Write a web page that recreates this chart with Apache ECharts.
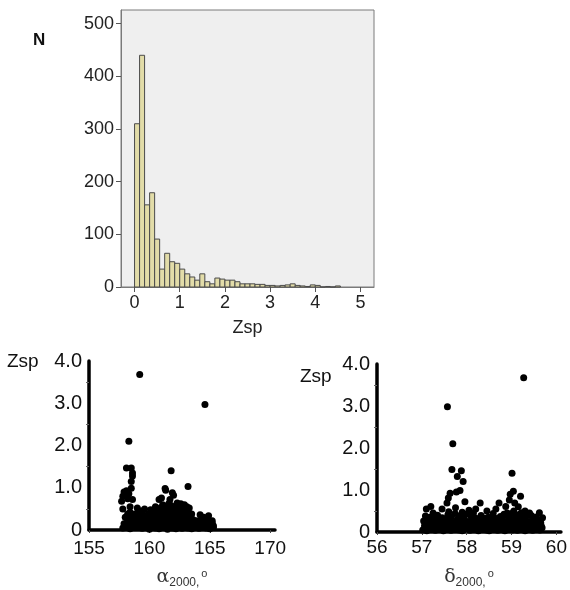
<!DOCTYPE html>
<html><head><meta charset="utf-8">
<script src="https://cdn.jsdelivr.net/npm/echarts@6/dist/echarts.min.js"></script>
<style>html,body{margin:0;padding:0;background:#fff}#c{width:570px;height:590px}</style>
</head><body><div id="c"></div>
<script>
// Histogram: Zsp bins (width 1/9) and counts N
const histBinWidth = 1/9;
const histCounts = [310,440,156,179,91,34,64,48,45,34,25,19,13,25,10,6,17,15,13,13,10,6,6,6,5,5,3,3,2,3,4,6,3,2,1,4,3,0,1,0,2];
const histXTicks = [0,1,2,3,4,5];
const histYTicks = [0,100,200,300,400,500];

// Scatter 1: alpha2000 (deg) vs Zsp
const alphaZsp = [
[159.2,3.68],[164.6,2.97],[158.3,2.1],[161.8,1.4],
[158.1,1.47],[158.5,1.47],[158.6,1.35],[158.6,1.28],[158.5,1.15],[158.5,0.99],
[157.9,0.9],[158.1,0.93],[158.3,0.86],[157.8,0.8],[158.2,0.74],[158.6,0.72],[157.7,0.68],
[163.2,1.03],[161.3,0.98],[161.35,0.94],[161.9,0.88],[162.0,0.82],[161.7,0.72],
[160.8,0.72],[161.0,0.76],[162.6,0.62],[162.9,0.6],[163.1,0.55],[163.3,0.52],[162.3,0.64],
[160.5,0.55],[160.1,0.48],[159.6,0.5],[159.0,0.52],[158.4,0.55],[157.8,0.5],[159.3,0.45],
[164.2,0.36],[164.9,0.34],[164.5,0.3],[165.2,0.22],
[157.8,0.05],[158.1,0.08],[158.4,0.03],[158.8,0.06],[159.1,0.1],[159.4,0.04],[159.7,0.07],[160.0,0.02],[160.3,0.09],[160.5,0.05],[160.8,0.03],[161.0,0.08],[161.2,0.06],[161.5,0.02],[161.7,0.09],[161.9,0.05],[162.2,0.03],[162.4,0.07],[162.7,0.04],[163.0,0.09],[163.2,0.05],[163.5,0.03],[163.8,0.06],[164.1,0.04],[164.4,0.08],[164.7,0.05],[165.0,0.03],[165.3,0.06],
[157.9,0.15],[158.3,0.18],[158.7,0.13],[159.0,0.2],[159.3,0.16],[159.6,0.14],[159.9,0.19],[160.2,0.15],[160.4,0.21],[160.7,0.13],[160.9,0.18],[161.1,0.22],[161.4,0.15],[161.6,0.19],[161.8,0.13],[162.1,0.2],[162.3,0.16],[162.6,0.14],[162.9,0.19],[163.1,0.15],[163.4,0.18],[163.7,0.13],[164.0,0.17],[164.2,0.12],[164.5,0.15],[164.8,0.18],[165.1,0.14],[165.3,0.1],
[158.0,0.3],[158.5,0.27],[158.9,0.33],[159.2,0.26],[159.5,0.3],[159.8,0.28],[160.1,0.34],[160.3,0.27],[160.6,0.31],[160.8,0.26],[161.0,0.35],[161.3,0.29],[161.5,0.33],[161.7,0.27],[162.0,0.31],[162.2,0.36],[162.5,0.28],[162.7,0.33],[163.0,0.27],[163.3,0.32],[163.6,0.25],[163.9,0.22],[164.3,0.25],[164.7,0.24],
[158.4,0.42],[158.8,0.38],[159.4,0.4],[159.9,0.38],[160.5,0.42],[160.8,0.4],[161.1,0.45],[161.4,0.41],[161.7,0.48],[161.9,0.4],[162.1,0.47],[162.4,0.43],[162.8,0.4],[163.1,0.44],[163.5,0.38],
[161.3,0.55],[161.8,0.58],[162.3,0.52],[160.9,0.52],
[158.0,0.1],[158.25,0.12],[158.55,0.09],[158.95,0.12],[159.25,0.08],[159.55,0.11],[159.85,0.12],[160.15,0.09],[160.45,0.13],[160.65,0.08],[160.95,0.11],[161.3,0.1],[161.6,0.12],[161.85,0.08],[162.05,0.11],[162.35,0.1],[162.55,0.09],[162.85,0.12],[163.1,0.1],[163.35,0.12],[163.65,0.09],[163.95,0.11],[164.25,0.09],[164.6,0.11],[164.9,0.1],[165.2,0.12],
[158.2,0.23],[158.6,0.21],[159.1,0.24],[159.4,0.22],[159.7,0.23],[160.0,0.25],[160.5,0.24],[160.75,0.2],[161.2,0.24],[161.55,0.25],[161.9,0.22],[162.15,0.26],[162.4,0.23],[162.8,0.24],[163.2,0.22],[163.5,0.2],[163.85,0.17],[164.1,0.2],[164.55,0.2],[164.95,0.21],[165.2,0.17],
[160.25,0.38],[160.65,0.36],[161.2,0.37],[161.6,0.38],[162.3,0.38],[162.6,0.36],[162.95,0.36],[163.35,0.37],[161.5,0.5],[162.0,0.52],[162.6,0.48],[161.1,0.6],[161.6,0.62],[159.1,0.4],[158.6,0.35],[158.2,0.38]
];
const alphaXTicks = [155,160,165,170];

// Scatter 2: delta2000 (deg) vs Zsp
const deltaZsp = [
[59.27,3.67],[57.57,2.98],[57.69,2.1],[57.67,1.49],[57.88,1.46],[57.79,1.32],[57.92,1.2],[57.85,0.99],[57.77,0.95],[57.63,0.92],[57.59,0.81],[57.56,0.69],[57.96,0.72],
[59.01,1.4],[59.04,0.97],[58.97,0.9],[59.2,0.85],[58.95,0.76],[59.07,0.69],[58.72,0.69],[58.87,0.61],[58.3,0.69],[57.2,0.61],[57.1,0.55],[58.45,0.5],[58.59,0.44],[59.62,0.46],[59.69,0.34],[59.66,0.15],
[57.45,0.55],[57.75,0.58],[58.05,0.52],[58.2,0.55],[58.65,0.55],[59.15,0.6],[59.3,0.5],
[57.02,0.05],[57.11,0.03],[57.19,0.07],[57.3,0.04],[57.37,0.08],[57.48,0.03],[57.54,0.06],[57.65,0.04],[57.72,0.08],[57.83,0.05],[57.9,0.03],[58.01,0.07],[58.07,0.04],[58.18,0.06],[58.26,0.03],[58.33,0.08],[58.44,0.05],[58.5,0.03],[58.61,0.07],[58.69,0.04],[58.78,0.06],[58.85,0.03],[58.96,0.08],[59.02,0.05],[59.13,0.04],[59.19,0.07],[59.3,0.03],[59.37,0.06],[59.47,0.04],[59.56,0.08],[59.63,0.05],
[57.06,0.15],[57.15,0.12],[57.25,0.17],[57.33,0.14],[57.42,0.19],[57.5,0.13],[57.6,0.16],[57.68,0.2],[57.77,0.14],[57.86,0.17],[57.95,0.12],[58.03,0.18],[58.12,0.15],[58.22,0.13],[58.29,0.19],[58.39,0.16],[58.47,0.12],[58.55,0.17],[58.64,0.14],[58.73,0.19],[58.81,0.15],[58.9,0.13],[58.99,0.18],[59.07,0.16],[59.16,0.12],[59.24,0.19],[59.33,0.14],[59.42,0.17],[59.51,0.13],[59.6,0.18],[59.68,0.1],
[57.04,0.26],[57.13,0.23],[57.23,0.28],[57.32,0.25],[57.4,0.3],[57.52,0.24],[57.61,0.27],[57.7,0.22],[57.79,0.29],[57.88,0.25],[57.97,0.27],[58.06,0.23],[58.15,0.3],[58.24,0.26],[58.36,0.24],[58.45,0.28],[58.53,0.22],[58.62,0.27],[58.71,0.25],[58.8,0.3],[58.88,0.23],[58.97,0.28],[59.05,0.26],[59.14,0.31],[59.22,0.24],[59.31,0.29],[59.4,0.25],[59.49,0.28],[59.58,0.23],
[57.08,0.38],[57.18,0.35],[57.35,0.4],[57.45,0.34],[57.58,0.41],[57.66,0.36],[57.74,0.44],[57.83,0.38],[57.93,0.35],[58.0,0.42],[58.1,0.36],[58.2,0.33],[58.32,0.39],[58.48,0.35],[58.58,0.33],[58.75,0.37],[58.83,0.42],[58.92,0.38],[59.0,0.44],[59.09,0.4],[59.18,0.42],[59.26,0.38],[59.35,0.41],[59.44,0.39],[59.55,0.36],
[57.07,0.1],[57.16,0.08],[57.24,0.11],[57.34,0.09],[57.43,0.1],[57.52,0.09],[57.62,0.11],[57.7,0.1],[57.8,0.09],[57.88,0.11],[57.97,0.08],[58.05,0.11],[58.14,0.1],[58.23,0.09],[58.31,0.11],[58.4,0.1],[58.49,0.09],[58.58,0.11],[58.66,0.09],[58.75,0.1],[58.83,0.11],[58.93,0.09],[59.0,0.11],[59.1,0.1],[59.2,0.09],[59.27,0.11],[59.35,0.1],[59.45,0.09],[59.53,0.11],[59.62,0.1],
[57.09,0.2],[57.28,0.21],[57.46,0.21],[57.65,0.22],[57.82,0.21],[58.0,0.2],[58.18,0.22],[58.33,0.21],[58.5,0.2],[58.67,0.21],[58.85,0.2],[59.02,0.22],[59.19,0.21],[59.36,0.21],[59.54,0.2],[59.65,0.22],
[57.28,0.33],[57.55,0.32],[57.88,0.31],[58.27,0.31],[58.4,0.33],[58.66,0.32],[58.96,0.33],[59.12,0.34],[59.3,0.33],[59.5,0.32],[59.62,0.28],
[58.9,0.45],[59.05,0.5],[59.22,0.46],[59.4,0.45],[57.6,0.48],[57.9,0.47],[57.25,0.45],[58.15,0.45]
];
const deltaXTicks = [56,57,58,59,60];

const FONT = '"Liberation Sans", Arial, sans-serif';
const histData = histCounts.map((n, i) => [i * histBinWidth, (i + 1) * histBinWidth, n]);

const chart = echarts.init(document.getElementById('c'), null, {renderer: 'canvas'});

function zLabel(v){ return v === 0 ? '0' : v.toFixed(1); }

const scatterXAxisCommon = {
  type: 'value',
  axisLine: {show: true, onZero: false, lineStyle: {color: '#000', width: 3.5}},
  axisTick: {show: true, inside: false, length: 3, lineStyle: {color: '#444', width: 1}},
  splitLine: {show: false},
  axisLabel: {color: '#111', fontSize: 19, fontFamily: FONT, margin: 9}
};
const scatterYAxisCommon = {
  type: 'value', min: 0, max: 4, interval: 1,
  axisLine: {show: true, onZero: false, lineStyle: {color: '#000', width: 3.5}},
  axisTick: {show: false},
  minorTick: {show: true, splitNumber: 2, length: 3, lineStyle: {color: '#666', width: 1}},
  splitLine: {show: false},
  axisLabel: {color: '#111', fontSize: 20, fontFamily: FONT, margin: 7, formatter: zLabel}
};

const subRich = {
  g: {fontSize: 19, fontFamily: 'DejaVu Serif, serif', color: '#333', verticalAlign: 'top', lineHeight: 20},
  s: {fontSize: 12, fontFamily: FONT, color: '#333', verticalAlign: 'top', padding: [9, 0, 0, 0], lineHeight: 12},
  o: {fontSize: 11, fontFamily: FONT, color: '#333', verticalAlign: 'top', padding: [0, 0, 0, 2], lineHeight: 11}
};

chart.setOption({
  animation: false,
  backgroundColor: '#fff',
  grid: [
    {left: 121, top: 10, width: 253, height: 277, show: true, backgroundColor: '#efefef', borderColor: '#7a7a7a', borderWidth: 1, containLabel: false},
    {left: 89, top: 361, width: 186, height: 171, containLabel: false},
    {left: 377, top: 364, width: 189, height: 174, containLabel: false}
  ],
  xAxis: [
    {gridIndex: 0, type: 'value', min: -0.3, max: 5.3, position: 'bottom',
      name: 'Zsp', nameLocation: 'middle', nameGap: 32,
      nameTextStyle: {fontSize: 18, fontFamily: FONT, color: '#222'},
      axisLine: {show: true, onZero: false, lineStyle: {color: '#7a7a7a', width: 1}},
      axisTick: {show: true, inside: false, length: 5, lineStyle: {color: '#555'}, customValues: histXTicks},
      axisLabel: {fontSize: 18, fontFamily: FONT, color: '#222', margin: 7, customValues: histXTicks},
      splitLine: {show: false}},
    Object.assign({}, scatterXAxisCommon, {gridIndex: 1, min: 155, max: 170.4,
      axisTick: Object.assign({}, scatterXAxisCommon.axisTick, {customValues: alphaXTicks}),
      axisLabel: Object.assign({}, scatterXAxisCommon.axisLabel, {customValues: alphaXTicks}),
      name: '{g|α}{s|2000,}{o|o}', nameLocation: 'middle', nameGap: 38,
      nameTextStyle: {rich: subRich}}),
    Object.assign({}, scatterXAxisCommon, {gridIndex: 2, min: 56, max: 60.1,
      axisTick: Object.assign({}, scatterXAxisCommon.axisTick, {customValues: deltaXTicks}),
      axisLabel: Object.assign({}, scatterXAxisCommon.axisLabel, {customValues: deltaXTicks, margin: 6}),
      name: '{g|δ}{s|2000,}{o|o}', nameLocation: 'middle', nameGap: 36,
      nameTextStyle: {rich: subRich}})
  ],
  yAxis: [
    {gridIndex: 0, type: 'value', min: 0, max: 526, interval: 100, position: 'left',
      axisLine: {show: true, onZero: false, lineStyle: {color: '#7a7a7a', width: 1}},
      axisTick: {show: true, inside: false, length: 5, lineStyle: {color: '#555'}, customValues: histYTicks},
      axisLabel: {fontSize: 18, fontFamily: FONT, color: '#222', margin: 7, customValues: histYTicks},
      splitLine: {show: false}},
    Object.assign({}, scatterYAxisCommon, {gridIndex: 1}),
    Object.assign({}, scatterYAxisCommon, {gridIndex: 2})
  ],
  graphic: [
    {type: 'text', left: 33, top: 32, style: {text: 'N', font: 'bold 17px ' + FONT, fill: '#111'}},
    {type: 'text', left: 7, top: 352, style: {text: 'Zsp', font: '19px ' + FONT, fill: '#111'}},
    {type: 'text', left: 300, top: 367, style: {text: 'Zsp', font: '19px ' + FONT, fill: '#111'}}
  ],
  series: [
    {type: 'custom', xAxisIndex: 0, yAxisIndex: 0, data: histData,
      encode: {x: [0, 1], y: 2},
      renderItem: function(params, api){
        const p0 = api.coord([api.value(0), 0]);
        const p1 = api.coord([api.value(1), api.value(2)]);
        return {type: 'rect', shape: {x: p0[0], y: p1[1], width: p1[0] - p0[0], height: p0[1] - p1[1]},
          style: {fill: '#e2dca8', stroke: '#4a4a4a', lineWidth: 1}};
      }},
    {type: 'scatter', xAxisIndex: 1, yAxisIndex: 1, data: alphaZsp, symbol: 'circle', symbolSize: 7,
      itemStyle: {color: '#000', opacity: 1}},
    {type: 'scatter', xAxisIndex: 2, yAxisIndex: 2, data: deltaZsp, symbol: 'circle', symbolSize: 7,
      itemStyle: {color: '#000', opacity: 1}}
  ]
});
</script></body></html>
